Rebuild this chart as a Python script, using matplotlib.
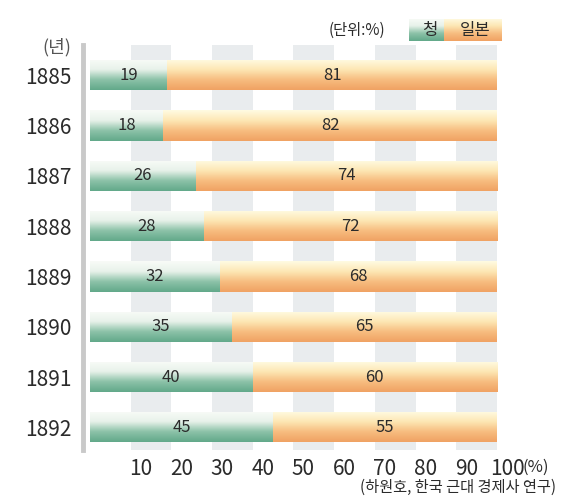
import numpy as np
import matplotlib
matplotlib.use("Agg")
import matplotlib.pyplot as plt
import matplotlib.transforms as mtransforms
from matplotlib.colors import LinearSegmentedColormap
from matplotlib.patches import Rectangle

plt.rcParams['font.family'] = ['Noto Sans CJK KR', 'DejaVu Sans']

# Data (단위: %)
years = ["1885", "1886", "1887", "1888", "1889", "1890", "1891", "1892"]
qing = [19, 18, 26, 28, 32, 35, 40, 45]
japan = [81, 82, 74, 72, 68, 65, 60, 55]
tick_values = [10, 20, 30, 40, 50, 60, 70, 80, 90, 100]

TEXT_COLOR = "#2b2b2b"
STRIPE_COLOR = "#e9ecee"

green_cmap = LinearSegmentedColormap.from_list(
    "qing", ["#f8fbf7", "#e8f2ea", "#8cc2a8", "#62a98a"])
orange_cmap = LinearSegmentedColormap.from_list(
    "japan", ["#fffbe2", "#fde7b4", "#f7bd80", "#f0a263"])


def gradient_fill(ax, patch, cmap, flipped=False):
    # paint a vertical gradient (light on top) inside a patch
    x0, y0 = patch.get_x(), patch.get_y()
    w, h = patch.get_width(), patch.get_height()
    grad = np.linspace(0, 1, 64).reshape(-1, 1)
    if flipped:
        ext = (x0, x0 + w, y0 + h, y0)
    else:
        ext = (x0, x0 + w, y0, y0 + h)
    im = ax.imshow(grad, cmap=cmap, aspect='auto', interpolation='bicubic',
                   extent=ext, origin='upper', zorder=3)
    im.set_clip_path(patch)
    patch.set_facecolor("none")


fig = plt.figure(figsize=(5.76, 5.0), dpi=100)
ax = fig.add_axes([0.156, 0.10, 0.707, 0.81])

# spine first: moving it rebuilds the ticks
for s in ['top', 'right', 'bottom']:
    ax.spines[s].set_visible(False)
ax.spines['left'].set_position(('outward', 5))
ax.spines['left'].set_color("#c9c9c9")
ax.spines['left'].set_linewidth(3.5)

y = np.arange(len(years))

# background stripes
for v in range(10, 100, 20):
    ax.axvspan(v, v + 10, color=STRIPE_COLOR, zorder=0, lw=0)

bars_q = ax.barh(y, qing, height=0.6, zorder=2, lw=0)
bars_j = ax.barh(y, japan, left=qing, height=0.6, zorder=2, lw=0)

for b in bars_q:
    gradient_fill(ax, b, green_cmap, flipped=True)
for b in bars_j:
    gradient_fill(ax, b, orange_cmap, flipped=True)

for i in range(len(years)):
    ax.text(qing[i] / 2, y[i], str(qing[i]), ha='center', va='center',
            fontsize=12, color=TEXT_COLOR, zorder=5)
    ax.text(qing[i] + japan[i] / 2, y[i], str(japan[i]), ha='center',
            va='center', fontsize=12, color=TEXT_COLOR, zorder=5)

ax.set_xlim(0, 100)
ax.set_ylim(7.45, -0.6)

ax.set_yticks(y)
ax.set_yticklabels(years, fontsize=15, color=TEXT_COLOR, fontweight='light')
ax.set_xticks(tick_values)
ax.set_xticklabels([str(v) for v in tick_values], fontsize=15,
                   color=TEXT_COLOR, fontweight='light')
ax.tick_params(axis='both', length=0)
ax.tick_params(axis='y', pad=8)
ax.tick_params(axis='x', pad=6)

# shift x tick labels a little to the right, as in the original
offset = mtransforms.ScaledTranslation(10 / 100, 0, fig.dpi_scale_trans)
for lbl in ax.get_xticklabels():
    lbl.set_transform(lbl.get_transform() + offset)

# axis captions
fig.text(522 / 576, 1 - 467 / 500, "(%)", ha='left', va='center',
         fontsize=12, color=TEXT_COLOR, fontweight='light')
fig.text(0.123, 0.905, "(년)", ha='right', va='center', fontsize=13,
         color="#555555", fontweight='light')
fig.text(0.668, 0.94, "(단위:%)", ha='right', va='center', fontsize=11,
         color=TEXT_COLOR)
fig.text(0.965, 0.025, "(하원호, 한국 근대 경제사 연구)", ha='right',
         va='center', fontsize=11, color=TEXT_COLOR)

# legend swatches
lax = fig.add_axes([0.71, 0.918, 0.16, 0.044])
lax.axis('off')
sw_q = Rectangle((0, 0), 0.38, 1, lw=0)
sw_j = Rectangle((0.38, 0), 0.62, 1, lw=0)
for p, cm in [(sw_q, green_cmap), (sw_j, orange_cmap)]:
    lax.add_patch(p)
    gradient_fill(lax, p, cm)
lax.set_xlim(0, 1)
lax.set_ylim(0, 1)
lax.text(0.23, 0.5, "청", ha='center', va='center', fontsize=12,
         color=TEXT_COLOR, zorder=5)
lax.text(0.72, 0.5, "일본", ha='center', va='center', fontsize=12,
         color=TEXT_COLOR, zorder=5)

fig.savefig("out.png", dpi=100)
